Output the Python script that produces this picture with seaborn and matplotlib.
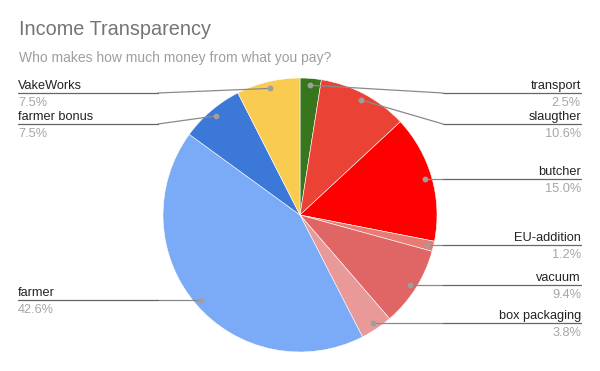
import numpy as np
import matplotlib
matplotlib.use("Agg")
import matplotlib.pyplot as plt
import seaborn as sns

# data, clockwise from 12 o'clock
labels = ["transport", "slaugther", "butcher", "EU-addition", "vacuum",
          "box packaging", "farmer", "farmer bonus", "VakeWorks"]
shares = [2.5, 10.6, 15.0, 1.2, 9.4, 3.8, 42.6, 7.5, 7.5]
colors = ["#38761d", "#ea4335", "#ff0000", "#e67c73", "#e06666",
          "#ea9999", "#7baaf7", "#3c78d8", "#f9cb50"]

sns.set_theme(style="white")
plt.rcParams["font.family"] = ["Liberation Sans", "DejaVu Sans"]

W, H = 600, 371
fig = plt.figure(figsize=(W / 100, H / 100), dpi=100)
ax = fig.add_axes([0, 0, 1, 1])

cx, cy, r = 300, H - 215, 137
wedges, _ = ax.pie(shares, colors=colors, startangle=90, counterclock=False,
                   center=(cx, cy), radius=r,
                   wedgeprops=dict(edgecolor="white", linewidth=0.4))
ax.set_xlim(0, W)
ax.set_ylim(0, H)
ax.set_aspect("auto")
ax.axis("off")

# anchor points on each slice
total = sum(shares)
anchors = []
start = 0.0
for s in shares:
    mid = (start + s / 2) / total * 2 * np.pi
    start += s
    anchors.append((cx + 0.95 * r * np.sin(mid), cy + 0.95 * r * np.cos(mid)))

# label rows: push apart so they don't collide (top-down in pixel space)
gap, top = 31, 93
rows = {}
for side in ("right", "left"):
    idx = [i for i, (x, _) in enumerate(anchors) if (x >= cx) == (side == "right")]
    idx.sort(key=lambda i: H - anchors[i][1])
    prev = None
    for i in idx:
        y = max(H - anchors[i][1], top if prev is None else prev + gap)
        rows[i] = y
        prev = y

for i, (lab, s) in enumerate(zip(labels, shares)):
    ax_, ay = anchors[i]
    ly = H - rows[i]
    right = ax_ >= cx
    if right:
        kink, end, ha = max(cx + r + 6, ax_), 581, "right"
    else:
        kink, end, ha = min(cx - r - 5, ax_), 18, "left"
    ax.plot([ax_, kink], [ay, ly], color="#8a8a8a", lw=0.9, zorder=3)
    ax.plot([kink, end], [ly, ly], color="#666666", lw=0.9, zorder=3)
    ax.plot(ax_, ay, "o", ms=3.2, color="#9e9e9e", zorder=4)
    ax.text(end, ly + 4, lab, ha=ha, va="baseline", fontsize=9.2, color="#222222")
    ax.text(end, ly - 4, f"{s:.1f}%", ha=ha, va="top", fontsize=9.2, color="#a6a6a6")

ax.text(19, H - 35, "Income Transparency", fontsize=14.3, color="#757575", va="baseline")
ax.text(19, H - 62, "Who makes how much money from what you pay?", fontsize=10,
        color="#9e9e9e", va="baseline")

fig.savefig("out.png", dpi=100)
